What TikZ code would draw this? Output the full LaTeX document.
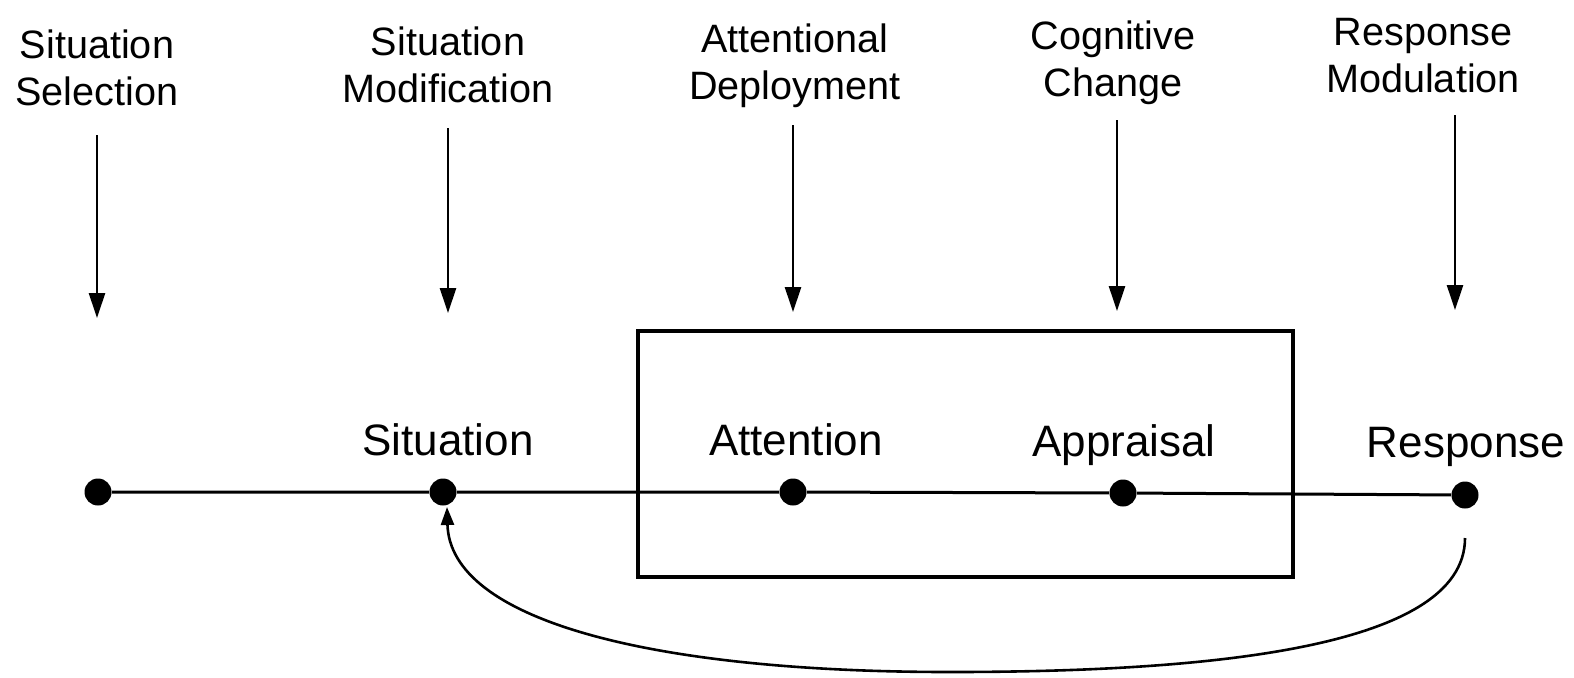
\documentclass[tikz,border=0pt]{standalone}
\usepackage{fontspec}
\setmainfont{Liberation Sans}
\usetikzlibrary{arrows.meta}
\begin{document}
\begin{tikzpicture}[x=0.5pt,y=-0.5pt,
  lab/.style={font=\fontsize{19.8}{23.5}\selectfont, align=center, anchor=base, inner sep=0pt},
  mid/.style={font=\fontsize{22}{26}\selectfont, anchor=base, inner sep=0pt},
  dot/.style={circle, fill=black, minimum size=13.5pt, inner sep=0pt},
  arr/.style={line width=1.3pt, -{Triangle[length=12.5pt,width=8pt]}},
  fb/.style={line width=1.3pt, -{Triangle[length=9pt,width=6.5pt]}},
  conn/.style={line width=1.5pt},
  boxline/.style={line width=2pt},
]
\useasboundingbox (0,0) rectangle (1574,677);

% top labels (anchor = baseline of last line)
\node[lab] (l1) at (97,105) {Situation\\Selection};
\node[lab] (l2) at (448,102) {Situation\\Modification};
\node[lab] (l3) at (795,99) {Attentional\\Deployment};
\node[lab] (l4) at (1113,96) {Cognitive\\Change};
\node[lab] (l5) at (1423,92) {Response\\Modulation};

% arrow ends
\coordinate (s1) at (97,135);  \coordinate (e1) at (97,318);
\coordinate (s2) at (448,128); \coordinate (e2) at (448,313);
\coordinate (s3) at (793,125); \coordinate (e3) at (793,312);
\coordinate (s4) at (1117,120); \coordinate (e4) at (1117,311);
\coordinate (s5) at (1455,115); \coordinate (e5) at (1455,310);

\foreach \i in {1,...,5} \draw[arr] (s\i) -- (e\i);

% box
\draw[boxline] (638,331) rectangle (1293,577);

% middle labels
\node[mid] (m2) at (448,455) {Situation};
\node[mid] (m3) at (796,455) {Attention};
\node[mid] (m4) at (1124,456) {Appraisal};
\node[mid] (m5) at (1466,457) {Response};

% dots
\node[dot] (d1) at (98,492) {};
\node[dot] (d2) at (443,492) {};
\node[dot] (d3) at (793,492) {};
\node[dot] (d4) at (1123,493) {};
\node[dot] (d5) at (1465,495) {};

\draw[conn] (d1) -- (d2) -- (d3) -- (d4) -- (d5);

% feedback curve
\coordinate (fs) at (1465,538);
\coordinate (fe) at (447,507);
\draw[fb] (fs) .. controls (1465,650) and (1200,672) .. (950,672)
              .. controls (650,672) and (450,620) .. (fe);
\end{tikzpicture}
\end{document}
